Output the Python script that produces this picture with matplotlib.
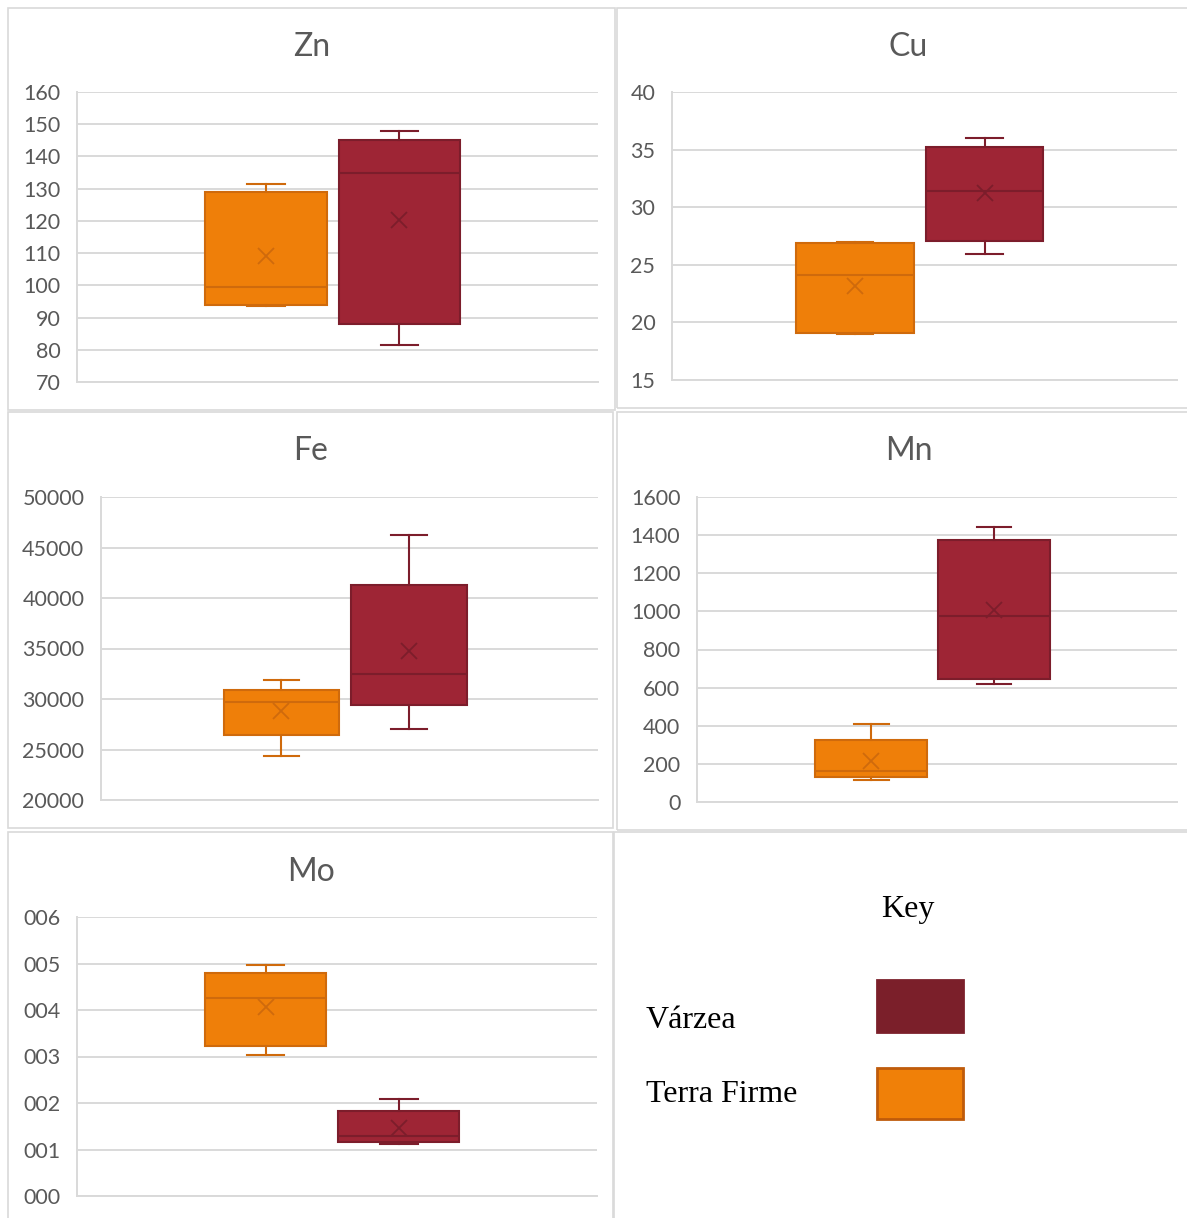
import matplotlib.pyplot as plt
from matplotlib.patches import Rectangle


W, H = 1187, 1218
DPI = 100

SERIES = ["Terra Firme", "Várzea"]
FILL = ["#EF7F09", "#9E2535"]
EDGE = ["#CF6A0C", "#7C1D2B"]
KEY_FILL = ["#F08008", "#7B1F2A"]
KEY_EDGE = ["#BF5B0B", "#7B1F2A"]

GRID_COLOR = "#D9D9D9"
TEXT_COLOR = "#595959"

# stats per series: whisker low, Q1, median, Q3, whisker high, mean
STAT_KEYS = ["whislo", "q1", "med", "q3", "whishi", "mean"]

ZN_TERRA_FIRME = [93.5, 94.0, 99.5, 129.0, 131.5, 109.0]
ZN_VARZEA = [81.5, 88.0, 135.0, 145.2, 148.0, 120.3]
CU_TERRA_FIRME = [19.0, 19.1, 24.1, 26.9, 27.0, 23.2]
CU_VARZEA = [25.9, 27.1, 31.4, 35.2, 36.0, 31.2]
FE_TERRA_FIRME = [24350, 26400, 29700, 30900, 31900, 28800]
FE_VARZEA = [27050, 29400, 32450, 41300, 46250, 34750]
MN_TERRA_FIRME = [115, 130, 165, 325, 410, 215]
MN_VARZEA = [620, 645, 975, 1375, 1445, 1005]
MO_TERRA_FIRME = [3.03, 3.23, 4.26, 4.80, 4.97, 4.07]
MO_VARZEA = [1.12, 1.16, 1.29, 1.83, 2.09, 1.46]

ZN_TICKS = [70, 80, 90, 100, 110, 120, 130, 140, 150, 160]
CU_TICKS = [15, 20, 25, 30, 35, 40]
FE_TICKS = [20000, 25000, 30000, 35000, 40000, 45000, 50000]
MN_TICKS = [0, 200, 400, 600, 800, 1000, 1200, 1400, 1600]
MO_TICKS = [0, 1, 2, 3, 4, 5, 6]
MO_TICK_LABELS = ["000", "001", "002", "003", "004", "005", "006"]

BOX_POS = [0.363, 0.619]
BOX_WIDTH = 0.233
CAP_WIDTH = 0.072


def px_rect(x0, y0, x1, y1):
	return [x0 / W, 1 - y1 / H, (x1 - x0) / W, (y1 - y0) / H]


def panel_border(fig, x0, y0, x1, y1):
	fig.patches.append(Rectangle(
		(x0 / W, 1 - y1 / H), (x1 - x0) / W, (y1 - y0) / H,
		transform=fig.transFigure, fill=False, edgecolor=GRID_COLOR, linewidth=1.2,
	))


def draw_panel(fig, title, title_y, terra, varzea, ticks, tick_labels, plot_box, panel_box):
	panel_border(fig, *panel_box)
	px0, _, px1, _ = panel_box
	fig.text((px0 + px1) / 2 / W, 1 - title_y / H, title, ha="center", va="center",
		fontsize=23, color=TEXT_COLOR)

	ax = fig.add_axes(px_rect(*plot_box))
	for i, values in enumerate([terra, varzea]):
		stats = dict(zip(STAT_KEYS, values))
		stats["fliers"] = []
		ax.bxp(
			[stats], positions=[BOX_POS[i]], widths=[BOX_WIDTH], capwidths=[CAP_WIDTH],
			patch_artist=True, showmeans=True, showfliers=False, manage_ticks=False,
			boxprops=dict(facecolor=FILL[i], edgecolor=EDGE[i], linewidth=1.5),
			medianprops=dict(color=EDGE[i], linewidth=1.5),
			whiskerprops=dict(color=EDGE[i], linewidth=1.5),
			capprops=dict(color=EDGE[i], linewidth=1.5),
			meanprops=dict(marker="x", markeredgecolor=EDGE[i], markersize=12,
				markeredgewidth=1.3, linestyle="none"),
		)

	ax.set_xlim(0, 1)
	ax.set_ylim(ticks[0], ticks[-1])
	ax.set_yticks(ticks)
	ax.set_yticklabels(tick_labels if tick_labels else [str(t) for t in ticks])
	ax.set_xticks([])
	ax.yaxis.grid(True, color=GRID_COLOR, linewidth=1.4)
	ax.set_axisbelow(True)
	for side in ["top", "right"]:
		ax.spines[side].set_visible(False)
	for side in ["left", "bottom"]:
		ax.spines[side].set_color(GRID_COLOR)
		ax.spines[side].set_linewidth(1.4)
	ax.tick_params(axis="y", length=0, pad=12, labelsize=15.5, labelcolor=TEXT_COLOR)
	return ax


def draw_key(fig):
	panel_border(fig, 614, 832, 1200, 1230)
	serif = "Liberation Serif"
	fig.text(908 / W, 1 - 910 / H, "Key", ha="center", va="center",
		fontsize=23, family=serif, color="black")
	rows = [(1, 1020, 980, 1032), (0, 1094, 1068, 1119)]
	for idx, ty, by0, by1 in rows:
		fig.text(646 / W, 1 - ty / H, SERIES[idx], ha="left", va="center",
			fontsize=23, family=serif, color="black")
		fig.patches.append(Rectangle(
			(877 / W, 1 - by1 / H), (963 - 877) / W, (by1 - by0) / H,
			transform=fig.transFigure, facecolor=KEY_FILL[idx],
			edgecolor=KEY_EDGE[idx], linewidth=2,
		))


def main() -> None:
	plt.rcParams["font.family"] = ["Lato", "DejaVu Sans"]
	fig = plt.figure(figsize=(W / DPI, H / DPI), dpi=DPI)

	draw_panel(fig, "Zn", 47, ZN_TERRA_FIRME, ZN_VARZEA, ZN_TICKS, None,
		(77, 92, 598, 382), (8, 8, 615, 410))
	draw_panel(fig, "Cu", 47, CU_TERRA_FIRME, CU_VARZEA, CU_TICKS, None,
		(672, 92, 1177, 380), (617, 8, 1200, 408))
	draw_panel(fig, "Fe", 451, FE_TERRA_FIRME, FE_VARZEA, FE_TICKS, None,
		(101, 497, 598, 800), (8, 412, 613, 828))
	draw_panel(fig, "Mn", 451, MN_TERRA_FIRME, MN_VARZEA, MN_TICKS, None,
		(697, 497, 1177, 802), (617, 412, 1200, 830))
	draw_panel(fig, "Mo", 872, MO_TERRA_FIRME, MO_VARZEA, MO_TICKS, MO_TICK_LABELS,
		(77, 917, 597, 1196), (8, 832, 613, 1230))

	draw_key(fig)
	fig.savefig("out.png", dpi=DPI)


if __name__ == "__main__":
	main()
